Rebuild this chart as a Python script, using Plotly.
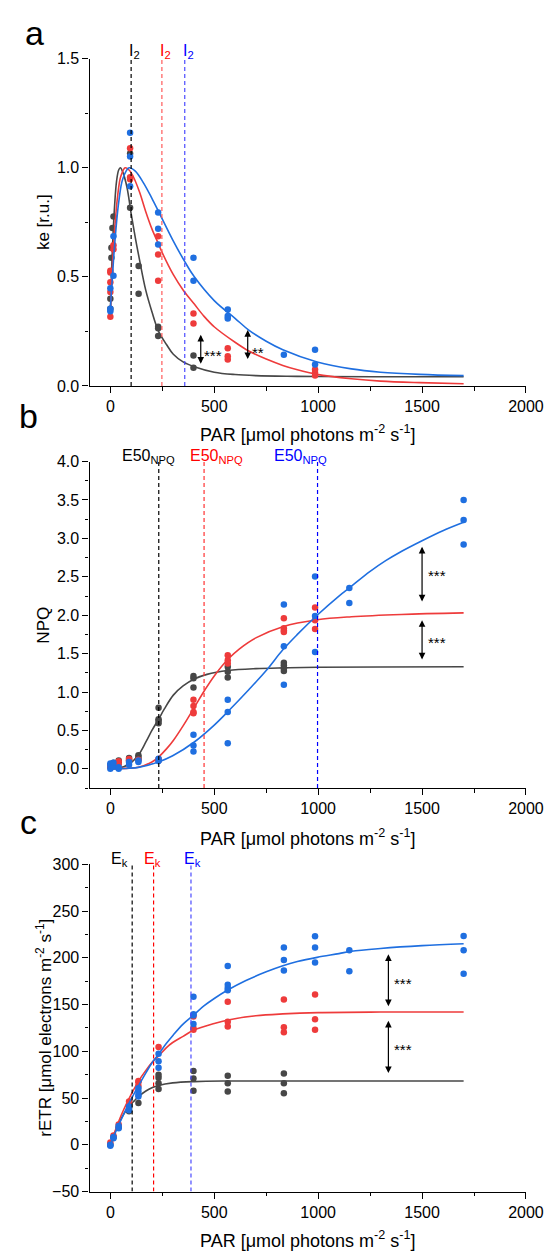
import plotly.graph_objects as go
from plotly.subplots import make_subplots

# colours of the three groups
GRAY, RED, BLUE = "#474747", "#ee3b3b", "#1f6fe0"
FONT = "Liberation Sans, Arial, sans-serif"

# ---- panel a: ke ----
ke_gray_x = [0, 0, 5, 5, 10, 15, 95, 95, 136, 136, 230, 230, 230, 400, 400]
ke_gray_y = [0.354, 0.40, 0.588, 0.633, 0.724, 0.777, 1.066, 0.817, 0.55, 0.422, 0.271, 0.264, 0.229, 0.139, 0.083]
ke_red_x = [0, 0, 0, 0, 0, 15, 15, 95, 95, 95, 230, 230, 230, 400, 400, 565, 565, 565, 985, 985, 985]
ke_red_y = [0.317, 0.43, 0.475, 0.52, 0.528, 0.626, 0.645, 1.09, 0.957, 0.947, 0.686, 0.603, 0.482,
            0.332, 0.286, 0.173, 0.136, 0.121, 0.075, 0.06, 0.048]
ke_blue_x = [0, 0, 0, 15, 15, 95, 95, 95, 230, 230, 230, 400, 400, 565, 565, 565, 835, 985, 985]
ke_blue_y = [0.342, 0.354, 0.448, 0.505, 0.686, 1.161, 1.052, 0.915, 0.795, 0.72, 0.648, 0.588, 0.482,
             0.35, 0.32, 0.309, 0.143, 0.166, 0.098]

ke_fit_gray_x = [0, 5, 10, 20, 30, 40, 48, 60, 80, 100, 120, 140, 170, 200, 232, 270, 303, 350, 404,
                 500, 600, 700, 850, 1000, 1300, 1700]
ke_fit_gray_y = [0.33, 0.50, 0.63, 0.82, 0.94, 0.99, 1.0, 0.98, 0.91, 0.79, 0.68, 0.58, 0.44, 0.34, 0.25,
                 0.19, 0.145, 0.11, 0.088, 0.063, 0.052, 0.047, 0.044, 0.043, 0.042, 0.042]
ke_fit_red_x = [0, 5, 10, 20, 35, 50, 71, 90, 110, 140, 170, 200, 232, 250, 303, 350, 404, 450, 501,
                600, 666, 750, 830, 900, 995, 1160, 1300, 1489, 1700]
ke_fit_red_y = [0.33, 0.45, 0.55, 0.71, 0.87, 0.96, 1.0, 0.99, 0.96, 0.89, 0.80, 0.72, 0.65, 0.61, 0.51,
                0.44, 0.375, 0.32, 0.27, 0.20, 0.16, 0.123, 0.094, 0.074, 0.053, 0.033, 0.022, 0.015, 0.01]
ke_fit_blue_x = [0, 5, 10, 20, 40, 60, 90, 120, 160, 200, 237, 300, 361, 404, 501, 600, 666, 750, 830,
                 995, 1160, 1300, 1489, 1700]
ke_fit_blue_y = [0.35, 0.43, 0.50, 0.64, 0.84, 0.95, 1.0, 0.985, 0.93, 0.86, 0.79, 0.67, 0.565, 0.50,
                 0.39, 0.31, 0.256, 0.205, 0.166, 0.11, 0.078, 0.063, 0.053, 0.047]
I2_values = [100, 248, 358]

# ---- panel b: NPQ ----
npq_gray_x = [0, 0, 15, 15, 40, 40, 90, 90, 135, 135, 135, 232, 232, 232, 232, 400, 400, 400,
              565, 565, 565, 835, 835, 835, 835]
npq_gray_y = [0.03, 0.05, 0.06, 0.08, 0.09, 0.11, 0.11, 0.14, 0.125, 0.155, 0.176, 0.595, 0.625, 0.646,
              0.795, 1.06, 1.18, 1.21, 1.19, 1.265, 1.33, 1.275, 1.31, 1.35, 1.38]
npq_red_x = [0, 0, 15, 40, 40, 90, 90, 135, 232, 232, 400, 400, 400, 400, 565, 565, 565,
             835, 835, 835, 835, 985, 985, 985]
npq_red_y = [0.02, 0.04, 0.05, 0.06, 0.10, 0.11, 0.13, 0.12, 0.11, 0.13, 0.725, 0.74, 0.817, 0.90,
             1.37, 1.415, 1.48, 1.78, 1.80, 1.83, 1.96, 1.82, 1.935, 2.10]
npq_blue_x = [0, 0, 0, 15, 15, 40, 40, 90, 90, 135, 135, 232, 232, 400, 400, 400, 565, 565, 565,
              835, 835, 835, 985, 985, 985, 1150, 1150, 1700, 1700, 1700]
npq_blue_y = [0.0, 0.05, 0.07, 0.03, 0.08, 0.0, 0.02, 0.055, 0.09, 0.09, 0.11, 0.10, 0.133, 0.227,
              0.304, 0.445, 0.333, 0.74, 0.90, 1.095, 1.595, 2.14, 1.52, 1.99, 2.505, 2.16, 2.355,
              2.92, 3.24, 3.50]

npq_fit_gray_x = [0, 40, 90, 135, 171, 200, 232, 260, 303, 350, 404, 465, 567, 700, 835, 1000, 1300, 1700]
npq_fit_gray_y = [0.0, 0.01, 0.06, 0.18, 0.35, 0.5, 0.646, 0.78, 0.96, 1.08, 1.17, 1.23, 1.28, 1.305,
                  1.315, 1.322, 1.327, 1.33]
npq_fit_red_x = [0, 90, 135, 200, 232, 270, 303, 350, 404, 453, 500, 567, 620, 700, 830, 995, 1160,
                 1400, 1700]
npq_fit_red_y = [0.0, 0.01, 0.022, 0.09, 0.154, 0.26, 0.37, 0.56, 0.80, 1.02, 1.21, 1.43, 1.56, 1.705,
                 1.85, 1.94, 1.98, 2.01, 2.03]
npq_fit_blue_x = [0, 90, 135, 232, 300, 404, 500, 567, 666, 750, 830, 900, 995, 1100, 1152, 1250,
                  1325, 1400, 1500, 1600, 1700]
npq_fit_blue_y = [0.0, 0.008, 0.02, 0.09, 0.17, 0.35, 0.57, 0.75, 1.03, 1.28, 1.55, 1.75, 2.0, 2.25,
                  2.36, 2.57, 2.71, 2.83, 2.97, 3.10, 3.21]
E50_values = [233, 451, 997]

# ---- panel c: rETR ----
etr_gray_x = [0, 15, 40, 90, 90, 135, 232, 232, 232, 232, 400, 400, 400, 565, 565, 565, 835, 835, 835]
etr_gray_y = [0, 8, 18.7, 35.9, 38.7, 44.6, 59.8, 65.7, 71.8, 75, 57.7, 71, 78.8, 57, 65.7, 73.9,
              55.2, 65.7, 76.3]
etr_red_x = [0, 15, 40, 90, 135, 135, 135, 232, 400, 400, 400, 565, 565, 565, 835, 835, 835, 985, 985, 985]
etr_red_y = [2.5, 10, 21.8, 46.4, 63, 67, 68.3, 104.5, 123, 124.8, 137.2, 126.6, 131.6, 153,
             120.3, 125.6, 155.4, 123.1, 134.3, 160.7]
etr_blue_x = [0, 0, 15, 15, 40, 40, 90, 90, 135, 135, 135, 135, 232, 232, 232, 400, 400, 400, 400,
              565, 565, 565, 565, 835, 835, 835, 985, 985, 985, 1150, 1150, 1700, 1700, 1700]
etr_blue_y = [-1, 0, 7, 8.4, 17.6, 20, 37, 41, 51.7, 53.5, 57, 60.5, 82.3, 89.4, 97.4, 129.1, 138.5,
              139.6, 158.3, 165.4, 167.8, 171.3, 191.3, 186.5, 197.7, 211, 194.9, 211, 223, 185.7,
              208.2, 182.9, 208.2, 223.4]

etr_fit_gray_x = [0, 20, 40, 65, 90, 115, 135, 171, 200, 232, 300, 404, 565, 835, 1200, 1700]
etr_fit_gray_y = [0, 12, 22.5, 33, 41, 47, 51.5, 57.5, 61, 63.5, 66.2, 67.6, 68.2, 68.3, 68.3, 68.3]
etr_fit_red_x = [0, 20, 40, 65, 90, 115, 138, 171, 200, 232, 270, 300, 350, 404, 500, 567, 700, 830,
                 1000, 1300, 1700]
etr_fit_red_y = [0, 13, 25, 38, 49.4, 60, 69, 79.6, 88, 95, 104, 109.4, 116, 123, 129.8, 133.5, 138,
                 140, 141.4, 142, 142.1]
etr_fit_blue_x = [0, 20, 40, 65, 90, 115, 135, 171, 200, 232, 270, 303, 350, 404, 450, 500, 567, 650,
                  750, 830, 900, 995, 1100, 1160, 1300, 1500, 1700]
etr_fit_blue_y = [0, 11, 21, 33, 44.5, 55, 63, 77, 87.5, 97, 108.5, 117.5, 129, 139.5, 148.5, 156.5,
                  165.8, 175.5, 185, 191.5, 196, 200.5, 204.5, 207, 210, 213, 215]
Ek_values = [105, 208, 388]

W, H = 556, 1253
X0, X1 = 84.3, 535.3
panels = [  # (top px, bottom px, y range, dtick, minor)
    (43.3, 375.0, [0, 1.5], 0.5, 0.25),
    (451.7, 782.7, [-0.25, 4.0], 0.5, 0.25),
    (860.0, 1191.7, [-50, 300], 50, 25),
]

fig = make_subplots(rows=3, cols=1)


def add_group(row, xs, ys, fx, fy, color):
    fig.add_trace(go.Scatter(x=fx, y=fy, mode="lines", line=dict(color=color, width=1.6, shape="spline"),
                             hoverinfo="skip"), row=row, col=1)
    fig.add_trace(go.Scatter(x=xs, y=ys, mode="markers", marker=dict(color=color, size=6.5)),
                  row=row, col=1)


add_group(1, ke_gray_x, ke_gray_y, ke_fit_gray_x, ke_fit_gray_y, GRAY)
add_group(1, ke_red_x, ke_red_y, ke_fit_red_x, ke_fit_red_y, RED)
add_group(1, ke_blue_x, ke_blue_y, ke_fit_blue_x, ke_fit_blue_y, BLUE)
add_group(2, npq_gray_x, npq_gray_y, npq_fit_gray_x, npq_fit_gray_y, GRAY)
add_group(2, npq_red_x, npq_red_y, npq_fit_red_x, npq_fit_red_y, RED)
add_group(2, npq_blue_x, npq_blue_y, npq_fit_blue_x, npq_fit_blue_y, BLUE)
add_group(3, etr_gray_x, etr_gray_y, etr_fit_gray_x, etr_fit_gray_y, GRAY)
add_group(3, etr_red_x, etr_red_y, etr_fit_red_x, etr_fit_red_y, RED)
add_group(3, etr_blue_x, etr_blue_y, etr_fit_blue_x, etr_fit_blue_y, BLUE)

axis_common = dict(showline=True, linecolor="black", linewidth=1.3, showgrid=False, zeroline=False,
                   ticks="outside", ticklen=6, tickwidth=1.2, tickcolor="black",
                   tickfont=dict(family=FONT, size=16, color="black"))

for i, (top, bot, yr, dt, mn) in enumerate(panels, start=1):
    dom_y = [1 - bot / H, 1 - top / H]
    fig.update_xaxes(domain=[X0 / W, X1 / W], range=[-100, 2000], tick0=0, dtick=500,
                     minor=dict(dtick=250, tick0=0, ticks="outside", ticklen=3.5, tickwidth=1.2,
                                tickcolor="black"),
                     row=i, col=1, **axis_common)
    fig.update_yaxes(domain=dom_y, range=yr, tick0=0, dtick=dt,
                     tickformat=".1f" if dt < 1 else "d",
                     minor=dict(dtick=mn, tick0=0, ticks="outside", ticklen=3.5, tickwidth=1.2,
                                tickcolor="black"),
                     row=i, col=1, **axis_common)

# dashed reference lines
line_sets = [
    (1, I2_values, ["black", "#ff5a5a", "#4a4aff"]),
    (2, E50_values, ["black", "#ff3030", "blue"]),
    (3, Ek_values, ["black", "red", "#4a4aff"]),
]
for row, vals, cols in line_sets:
    yr = panels[row - 1][2]
    sfx = "" if row == 1 else str(row)
    for v, c in zip(vals, cols):
        fig.add_shape(type="line", xref="x" + sfx, yref="y" + sfx, x0=v, x1=v, y0=yr[0], y1=yr[1],
                      line=dict(color=c, width=1.2, dash="4px,3px"))

ann = []
TXT = ["black", "red", "blue"]


def paper_y(py):
    return 1 - py / H


# panel letters
for lab, px, py in [("a", 27, 17), ("b", 21, 406), ("c", 21, 817)]:
    ann.append(dict(text=lab, x=px / W, y=paper_y(py), xref="paper", yref="paper", showarrow=False,
                    xanchor="center", yanchor="middle", font=dict(family=FONT, size=34, color="black")))

# axis titles
xt = "PAR [μmol photons m<sup>-2</sup> s<sup>-1</sup>]"
for py in [423, 833, 1240]:
    ann.append(dict(text=xt, x=(X0 + X1) / 2 / W, y=paper_y(py), xref="paper", yref="paper",
                    showarrow=False, xanchor="center", yanchor="middle",
                    font=dict(family=FONT, size=18, color="black")))
for t, top, bot in [("ke [r.u.]", 43.3, 375), ("NPQ", 451.7, 782.7),
                    ("rETR [μmol electrons m<sup>-2</sup> s<sup>-1</sup>]", 860, 1191.7)]:
    ann.append(dict(text=t, x=37 / W, y=paper_y((top + bot) / 2), xref="paper", yref="paper",
                    showarrow=False, xanchor="center", yanchor="middle", textangle=-90,
                    font=dict(family=FONT, size=17, color="black")))

# line labels
for v, c in zip(I2_values, TXT):
    ann.append(dict(text="I<sub>2</sub>", x=v, y=paper_y(36), xref="x", yref="paper", showarrow=False,
                    xanchor="left", xshift=-4, yanchor="middle", font=dict(family=FONT, size=16, color=c)))
for xv, c in zip([56, 385, 789], TXT):
    ann.append(dict(text="E50<sub>NPQ</sub>", x=xv, y=paper_y(447), xref="x2", yref="paper",
                    showarrow=False, xanchor="left", xshift=-2, yanchor="middle",
                    font=dict(family=FONT, size=16, color=c)))
for xv, c in zip([3, 163, 353], TXT):
    ann.append(dict(text="E<sub>k</sub>", x=xv, y=paper_y(855), xref="x3", yref="paper",
                    showarrow=False, xanchor="left", xshift=-2, yanchor="middle",
                    font=dict(family=FONT, size=16, color=c)))

# significance arrows
arrows = [  # axis suffix, x, y low, y high, label, label x, label y
    ("", 435, 0.095, 0.234, "***", 493, 0.14),
    ("", 661, 0.116, 0.256, "**", 712, 0.155),
    ("2", 1500, 2.16, 2.89, "***", 1572, 2.52),
    ("2", 1500, 1.405, 1.935, "***", 1572, 1.64),
    ("3", 1338, 146.7, 203.7, "***", 1407, 172),
    ("3", 1338, 75.2, 132.6, "***", 1407, 102),
]
for sfx, x, ylo, yhi, lab, lx, ly in arrows:
    ann.append(dict(text="", x=x, y=yhi, ax=x, ay=ylo, xref="x" + sfx, yref="y" + sfx,
                    axref="x" + sfx, ayref="y" + sfx, showarrow=True, arrowside="end+start",
                    arrowhead=2, arrowsize=1.1, arrowwidth=1.2, arrowcolor="black",
                    standoff=0, startstandoff=0))
    ann.append(dict(text=lab, x=lx, y=ly, xref="x" + sfx, yref="y" + sfx, showarrow=False,
                    xanchor="center", yanchor="middle", font=dict(family=FONT, size=15, color="black")))

fig.update_layout(width=W, height=H, margin=dict(l=0, r=0, t=0, b=0), showlegend=False,
                  plot_bgcolor="white", paper_bgcolor="white", annotations=ann,
                  font=dict(family=FONT, color="black"))

fig.write_html("out.html")
